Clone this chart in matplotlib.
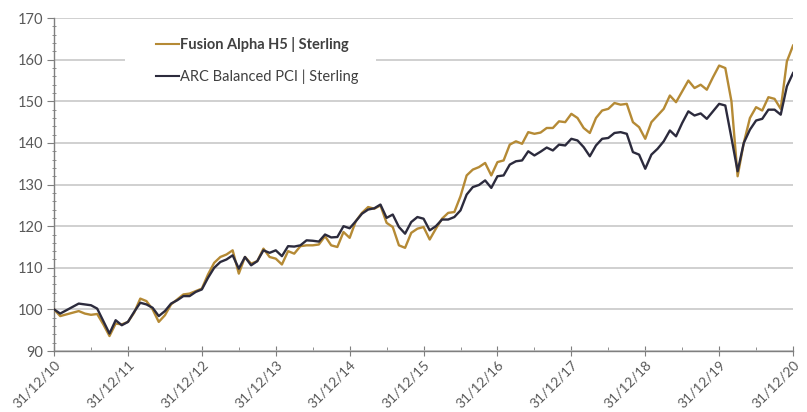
import matplotlib
matplotlib.use('agg')
import matplotlib.pyplot as plt
from matplotlib.patches import Rectangle
from matplotlib.ticker import MultipleLocator

plt.rcParams['font.family'] = ['Lato', 'DejaVu Sans']

# monthly values, 31/12/10 .. 31/12/20
fusion = [
    100.0, 98.4, 98.8, 99.2, 99.6, 99.0, 98.7, 98.9, 96.4, 93.6, 96.6, 96.4,
    97.0, 99.2, 102.6, 102.0, 100.0, 97.0, 98.6, 101.2, 102.4, 103.6, 103.8, 104.4,
    105.0, 108.4, 111.2, 112.6, 113.2, 114.2, 108.6, 112.6, 111.0, 111.6, 114.6, 112.6,
    112.2, 110.8, 114.0, 113.4, 115.2, 115.4, 115.4, 115.6, 117.6, 115.4, 115.0, 118.6,
    117.2, 121.2, 123.2, 124.6, 124.2, 125.0, 120.8, 119.8, 115.4, 114.8, 118.4, 119.4,
    119.8, 116.8, 119.4, 121.8, 123.2, 123.4, 127.2, 132.2, 133.6, 134.2, 135.2, 132.2,
    135.4, 135.8, 139.6, 140.4, 139.8, 142.6, 142.2, 142.5, 143.6, 143.6, 145.2, 145.0,
    147.0, 146.0, 143.6, 142.4, 146.0, 147.8, 148.2, 149.6, 149.2, 149.4, 145.0, 143.8,
    141.0, 145.0, 146.6, 148.2, 151.4, 149.8, 152.4, 155.0, 153.2, 154.0, 152.8, 155.8,
    158.6, 158.0, 150.0, 132.0, 140.0, 146.0, 148.6, 147.8, 151.0, 150.6, 148.2, 159.6,
    163.4,
]
arc = [
    100.0, 99.0, 99.8, 100.6, 101.4, 101.2, 101.0, 100.2, 97.2, 94.2, 97.4, 96.2,
    97.0, 99.4, 101.6, 101.2, 100.4, 98.4, 99.6, 101.4, 102.2, 103.2, 103.2, 104.2,
    104.8, 107.6, 110.0, 111.4, 112.0, 113.0, 109.8, 112.6, 110.6, 111.6, 114.2, 113.6,
    114.2, 112.8, 115.2, 115.1, 115.4, 116.6, 116.5, 116.3, 118.0, 117.3, 117.4, 120.0,
    119.5, 121.2, 123.0, 124.0, 124.3, 125.2, 122.0, 122.8, 119.8, 118.2, 121.0, 122.2,
    121.8, 119.0, 120.0, 121.6, 121.6, 122.2, 123.8, 127.6, 129.4, 129.9, 131.0, 129.2,
    132.0, 132.2, 134.8, 135.6, 135.8, 138.0, 137.0, 137.9, 138.9, 138.2, 139.6, 139.4,
    141.0, 140.6, 139.0, 136.8, 139.4, 141.0, 141.2, 142.4, 142.6, 142.2, 137.8, 137.2,
    133.8, 137.2, 138.6, 140.4, 143.0, 141.6, 144.8, 147.6, 146.6, 147.1, 145.8, 147.6,
    149.4, 149.0, 141.2, 133.2, 140.0, 143.2, 145.4, 145.8, 148.0, 148.0, 146.8, 153.6,
    156.8,
]
year_labels = ['31/12/10', '31/12/11', '31/12/12', '31/12/13', '31/12/14', '31/12/15',
               '31/12/16', '31/12/17', '31/12/18', '31/12/19', '31/12/20']

GOLD = '#B58A35'
NAVY = '#2C2B3D'
GREY = '#595959'

fig = plt.figure(figsize=(8.07, 4.12), dpi=100)
ax = fig.add_axes([0.067, 0.148, 0.9157, 0.808])

months = list(range(len(fusion)))
ax.plot(months, fusion, color=GOLD, lw=1.7, label='Fusion Alpha H5 | Sterling', zorder=3)
ax.plot(months, arc, color=NAVY, lw=1.7, label='ARC Balanced PCI | Sterling', zorder=4)

ax.set_xlim(0, 120)
ax.set_ylim(90, 170)
ax.set_yticks(range(90, 171, 10))
ax.yaxis.set_minor_locator(MultipleLocator(2))
ax.set_xticks(range(0, 121, 12))
ax.set_xticklabels(year_labels, rotation=45, ha='right', rotation_mode='anchor')
ax.xaxis.set_minor_locator(MultipleLocator(6))

ax.grid(axis='y', color='#C4C4C4', lw=1.1, zorder=0)
ax.set_axisbelow(True)
for s in ['top', 'right']:
    ax.spines[s].set_visible(False)
for s in ['left', 'bottom']:
    ax.spines[s].set_color('#7F7F7F')
    ax.spines[s].set_linewidth(1.0)

ax.tick_params(axis='y', which='major', length=5, color='#7F7F7F', labelcolor=GREY,
               labelsize=10.5, pad=3)
ax.tick_params(axis='y', which='minor', length=2.5, direction='inout', color='#7F7F7F')
ax.tick_params(axis='x', which='major', length=7, direction='inout', color='#7F7F7F',
               labelcolor=GREY, labelsize=10, pad=2)
ax.tick_params(axis='x', which='minor', length=3, direction='in', color='#7F7F7F')

# white box behind the legend (hides the gridlines there)
ax.add_patch(Rectangle((0.096, 0.78), 0.34, 0.19, transform=ax.transAxes,
                       facecolor='white', edgecolor='none', zorder=1))
leg = ax.legend(loc='upper left', bbox_to_anchor=(0.138, 0.943), frameon=False,
                fontsize=10.5, handlelength=1.55, handletextpad=0.12,
                labelspacing=1.2, borderpad=0, borderaxespad=0)
for t in leg.get_texts():
    t.set_color('#404040')
leg.get_texts()[0].set_fontweight('bold')
for h in leg.get_lines():
    h.set_linewidth(1.5)

fig.savefig('out.png', dpi=100)
